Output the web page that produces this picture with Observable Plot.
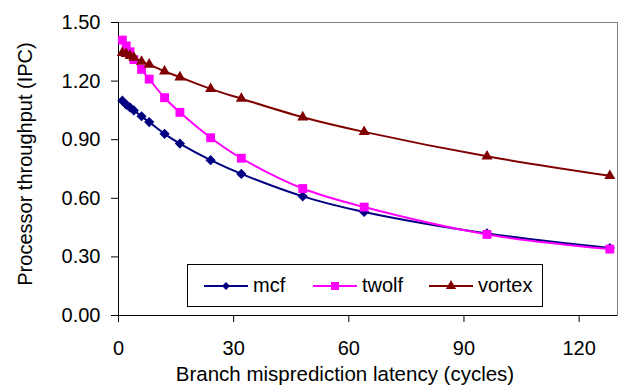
<!DOCTYPE html>
<html>
<head>
<meta charset="utf-8">
<script src="https://cdn.jsdelivr.net/npm/d3@7"></script>
<script src="https://cdn.jsdelivr.net/npm/@observablehq/plot@0.6"></script>
<style>
  html, body { margin: 0; padding: 0; background: #fff; }
  #wrap { position: relative; width: 620px; height: 387px; font-family: "Liberation Sans", Arial, sans-serif; }
  #ytitle { position: absolute; left: 25px; top: 164px; transform: translate(-50%, -50%) rotate(-90deg); font-size: 20px; white-space: nowrap; color: #000; }
  #xtitle { position: absolute; left: 345px; top: 374px; transform: translate(-50%, -50%); font-size: 20.5px; white-space: nowrap; color: #000; }
  #legend { position: absolute; left: 187px; top: 264px; width: 356px; height: 43px; border: 1px solid #000; background: #fff; box-sizing: border-box; font-size: 20px; }
  .item { position: absolute; top: 0; height: 100%; display: flex; align-items: center; }
  .item svg { display: block; margin-right: 5px; }
</style>
</head>
<body>
<div id="wrap">
  <div id="chart"></div>
  <div id="ytitle">Processor throughput (IPC)</div>
  <div id="xtitle">Branch misprediction latency (cycles)</div>
  <div id="legend"></div>
</div>
<script>
const latency = [1, 2, 3, 4, 6, 8, 12, 16, 24, 32, 48, 64, 96, 128];
const mcf    = [1.10, 1.08, 1.065, 1.05, 1.02, 0.99, 0.93, 0.88, 0.795, 0.725, 0.61, 0.53, 0.42, 0.345];
const twolf  = [1.41, 1.38, 1.35, 1.31, 1.26, 1.21, 1.115, 1.04, 0.91, 0.805, 0.65, 0.555, 0.415, 0.34];
const vortex = [1.345, 1.34, 1.33, 1.32, 1.30, 1.285, 1.25, 1.22, 1.16, 1.11, 1.015, 0.94, 0.815, 0.715];
const seriesNames = ["mcf", "twolf", "vortex"];
const xTicks = [0, 30, 60, 90, 120];
const yTicks = [0, 0.3, 0.6, 0.9, 1.2, 1.5];

const colors = {mcf: "#000080", twolf: "#FF00FF", vortex: "#800000"};
const symbols = {mcf: "diamond2", twolf: "square", vortex: "triangle"};
const radii = {mcf: 4.6, twolf: 5, vortex: 4.1};
const values = {mcf, twolf, vortex};

const rows = seriesNames.flatMap(s => latency.map((x, i) => ({series: s, x, y: values[s][i]})));

const marks = [
  Plot.frame({stroke: "#808080"}),
  Plot.ruleX([0], {stroke: "#000"}),
  Plot.ruleY([0], {stroke: "#000"}),
  Plot.axisY(yTicks, {tickFormat: d => d.toFixed(2), tickSize: 7, tickPadding: 11, fontSize: 20, label: null, stroke: "#000"}),
  Plot.axisX(xTicks, {tickSize: 7, tickPadding: 18, fontSize: 20, label: null, stroke: "#000"})
];
for (const s of seriesNames) {
  const d = rows.filter(r => r.series === s);
  marks.push(Plot.line(d, {x: "x", y: "y", stroke: colors[s], strokeWidth: 2, curve: "catmull-rom"}));
  marks.push(Plot.dot(d, {x: "x", y: "y", fill: colors[s], stroke: "none", symbol: symbols[s], r: radii[s]}));
}

const chart = Plot.plot({
  width: 620,
  height: 387,
  marginLeft: 118,
  marginTop: 22,
  marginRight: 3,
  marginBottom: 72,
  style: {fontFamily: "Liberation Sans, Arial, sans-serif", color: "#000", background: "#fff", overflow: "visible"},
  x: {domain: [0, 130]},
  y: {domain: [0, 1.5]},
  marks
});
document.getElementById("chart").appendChild(chart);

// legend
const legend = document.getElementById("legend");
const legendLeft = {mcf: 16, twolf: 125, vortex: 241};
const legendR = {mcf: 3.6, twolf: 4.5, vortex: 3.8};
for (const s of seriesNames) {
  const item = document.createElement("div");
  item.className = "item";
  item.style.left = legendLeft[s] + "px";
  const sym = d3.symbol(s === "mcf" ? d3.symbolDiamond2 : s === "twolf" ? d3.symbolSquare : d3.symbolTriangle, Math.PI * legendR[s] * legendR[s])();
  item.innerHTML = `<svg width="44" height="16" viewBox="-22 -8 44 16"><line x1="-22" x2="22" y1="0" y2="0" stroke="${colors[s]}" stroke-width="2"/><path d="${sym}" fill="${colors[s]}"/></svg><span>${s}</span>`;
  legend.appendChild(item);
}
</script>
</body>
</html>
